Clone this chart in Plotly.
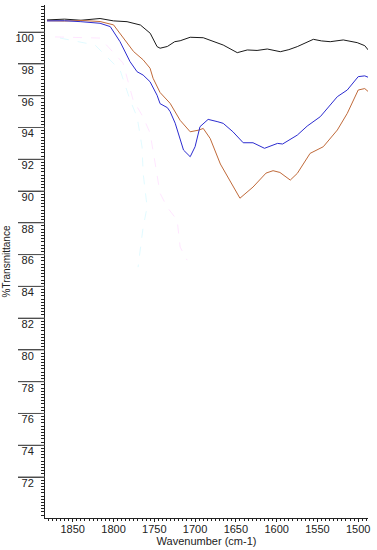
import plotly.graph_objects as go

# ---- data ----
black_wn = [1881.5, 1860, 1840, 1816.5, 1800, 1783.4, 1767, 1755, 1746.6, 1742.9, 1734, 1725, 1718.3,
            1706, 1690, 1677.8, 1665.5, 1648.3, 1636, 1624, 1611.5, 1595.5, 1585, 1574.7, 1555, 1545,
            1534.3, 1518.3, 1501.2, 1492, 1487.7]
black_t = [100.77, 100.82, 100.75, 100.86, 100.71, 100.66, 100.45, 99.93, 99.09, 98.99, 99.10, 99.40, 99.46,
           99.68, 99.65, 99.40, 99.19, 98.71, 98.88, 98.85, 98.94, 98.77, 98.90, 99.09, 99.55, 99.45,
           99.40, 99.51, 99.34, 99.15, 98.88]

blue_wn = [1881.5, 1860, 1840, 1816.5, 1804, 1792, 1779.7, 1771.1, 1763.7, 1755.2, 1746.6, 1742.9, 1734,
           1730.6, 1724.4, 1714.2, 1706, 1700, 1694, 1684, 1672, 1665.5, 1653.6, 1647.4, 1641, 1629,
           1614.9, 1598.9, 1592.7, 1574.7, 1562.5, 1546.5, 1525.6, 1513.4, 1500, 1492, 1487.7]
blue_t = [100.71, 100.72, 100.66, 100.56, 100.35, 99.40, 98.14, 97.51, 97.30, 96.88, 96.03, 95.50, 95.25,
          95.00, 94.27, 92.58, 92.16, 92.79, 94.05, 94.51, 94.36, 94.26, 93.73, 93.42, 93.04, 93.04,
          92.69, 93.00, 92.96, 93.52, 94.09, 94.68, 95.94, 96.36, 97.20, 97.25, 97.16]

orange_wn = [1881.5, 1860, 1840, 1816.5, 1800, 1788, 1775.4, 1763.7, 1755.2, 1751.5, 1742.9, 1730.6,
             1718.3, 1706, 1695.9, 1690, 1681.5, 1669, 1656.7, 1645, 1629, 1613, 1604.4, 1596, 1583.3,
             1574.7, 1559, 1542.8, 1525.6, 1513.4, 1500, 1492, 1487.7]
orange_t = [100.72, 100.70, 100.74, 100.67, 100.46, 99.62, 98.78, 98.26, 97.73, 97.10, 96.20, 95.52,
            94.45, 93.73, 93.83, 93.94, 93.31, 91.70, 90.60, 89.55, 90.25, 91.13, 91.28, 91.17, 90.69,
            91.11, 92.37, 92.79, 93.84, 94.89, 96.36, 96.45, 96.26]

ghost1_wn = [1871.7, 1816.5, 1788.3, 1776, 1763.7, 1755.2, 1749, 1743, 1734.3, 1722, 1718.3, 1709.8]
ghost1_t = [99.70, 99.63, 98.06, 95.73, 94.66, 93.65, 91.76, 89.87, 88.99, 88.17, 86.47, 85.65]
ghost2_wn = [1865.6, 1822.6, 1792, 1779.7, 1771.1, 1765, 1763.7, 1758.8, 1763.7, 1769.9]
ghost2_t = [99.63, 99.19, 97.62, 95.73, 94.66, 92.77, 91.13, 88.99, 87.73, 85.21]

x_ticks = [1850, 1800, 1750, 1700, 1650, 1600, 1550, 1500]
y_ticks = [72, 74, 76, 78, 80, 82, 84, 86, 88, 90, 92, 94, 96, 98, 100]
x_range = [1884, 1488]
y_range = [69.42, 101.71]

fig = go.Figure()
fig.add_trace(go.Scatter(x=ghost1_wn, y=ghost1_t, mode="lines",
                         line=dict(color="rgba(255,140,255,0.22)", width=1, dash="dash")))
fig.add_trace(go.Scatter(x=ghost2_wn, y=ghost2_t, mode="lines",
                         line=dict(color="rgba(120,230,255,0.22)", width=1, dash="dash")))
fig.add_trace(go.Scatter(x=black_wn, y=black_t, mode="lines", line=dict(color="#1a1a1a", width=1)))
fig.add_trace(go.Scatter(x=orange_wn, y=orange_t, mode="lines", line=dict(color="#c06a3a", width=1)))
fig.add_trace(go.Scatter(x=blue_wn, y=blue_t, mode="lines", line=dict(color="#2c2cd0", width=1)))

# long major tick marks on the y axis (placed with the y scale)
plot_w = 377 - 45 - 9
for v in y_ticks:
    fig.add_shape(type="line", xref="paper", yref="y", x0=-27 / plot_w, x1=0, y0=v, y1=v,
                  line=dict(color="#555", width=1), layer="above")

font = dict(family="Liberation Sans, Arial, sans-serif", size=11, color="#222")

fig.update_layout(
    width=377, height=550,
    margin=dict(l=45, r=9, t=5, b=32),
    paper_bgcolor="white", plot_bgcolor="white",
    showlegend=False,
    font=font,
    xaxis=dict(
        range=x_range, showgrid=False, zeroline=False, automargin=False,
        showline=True, linecolor="#222", linewidth=1,
        ticks="outside", ticklen=3, tickcolor="#222",
        tickmode="array", tickvals=x_ticks, ticklabelstandoff=-2,
        minor=dict(ticks="outside", ticklen=2, dtick=5, tick0=1500, tickcolor="#222"),
        title=dict(text="Wavenumber (cm-1)", standoff=0, font=dict(size=11)),
        fixedrange=True,
    ),
    yaxis=dict(
        range=y_range, showgrid=False, zeroline=False, automargin=False,
        showline=True, linecolor="#222", linewidth=1,
        ticks="outside", ticklen=26, tickcolor="#444", tickwidth=1,
        tickmode="array", tickvals=y_ticks, ticklabelstandoff=-18, ticklabelshift=6,
        minor=dict(ticks="outside", ticklen=3, dtick=0.2, tick0=0, tickcolor="#222"),
        title=dict(text="%Transmittance", standoff=2, font=dict(size=10)),
        fixedrange=True,
    ),
)

fig.write_html("out.html", config={"displayModeBar": False},
               post_script="document.body.style.margin='0';document.body.style.padding='0';")
